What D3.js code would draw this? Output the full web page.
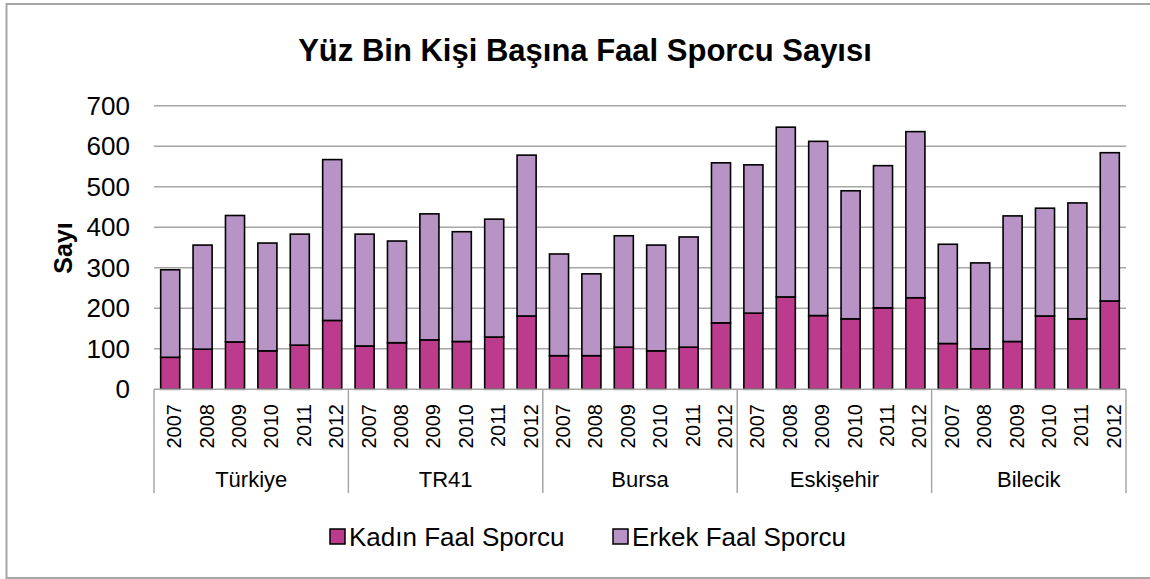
<!DOCTYPE html>
<html><head><meta charset="utf-8">
<script src="https://cdn.jsdelivr.net/npm/d3@7"></script>
<style>body{margin:0;background:#fff}svg{display:block;font-family:"Liberation Sans",Arial,sans-serif}</style>
</head><body><svg id="c" width="1150" height="579"></svg>
<script>
const groups = ["Türkiye","TR41","Bursa","Eskişehir","Bilecik"];
const years = ["2007","2008","2009","2010","2011","2012"];
const kadin = [
  79, 99, 117, 95, 109, 170,
  107, 115, 122, 118, 129, 181,
  83, 83, 104, 95, 104, 164,
  188, 228, 182, 174, 201, 226,
  113, 100, 118, 181, 174, 218
];
const erkek = [
  216, 257, 312, 266, 274, 397,
  276, 251, 311, 271, 291, 397,
  251, 202, 275, 261, 272, 395,
  366, 419, 430, 316, 351, 410,
  245, 212, 310, 266, 286, 366
];
const yTicks = [0,100,200,300,400,500,600,700];
const seriesNames = ["Kadın Faal Sporcu","Erkek Faal Sporcu"];
const colors = ["#bc3b8c","#b894c6"];

const rows = [];
groups.forEach((g,gi)=>years.forEach((yr,yi)=>{
  const i = gi*years.length+yi;
  rows.push({key:g+"|"+yr, group:g, year:yr, kadin:kadin[i], erkek:erkek[i]});
}));

const svg = d3.select("#c");
const L=154, R=1126, T=105.7, B=389.3;
const x = d3.scaleBand().domain(rows.map(d=>d.key)).range([L,R]).paddingInner(0.4118).paddingOuter(0.2059);
const y = d3.scaleLinear().domain([0,700]).range([B,T]);

// outer border
svg.append("rect").attr("x",6.5).attr("y",4).attr("width",1160).attr("height",574)
  .attr("fill","none").attr("stroke","#a6a6a6").attr("stroke-width",2);

// title
svg.append("text").attr("x",585).attr("y",61).attr("text-anchor","middle")
  .attr("font-size",31).attr("font-weight","bold").text("Yüz Bin Kişi Başına Faal Sporcu Sayısı");

// gridlines
svg.append("g").selectAll("line").data(yTicks.filter(t=>t>0)).join("line")
  .attr("x1",L).attr("x2",R).attr("y1",d=>y(d)).attr("y2",d=>y(d))
  .attr("stroke","#a6a6a6").attr("stroke-width",1.5);

// y axis labels
const yAxis = d3.axisLeft(y).tickValues(yTicks).tickSize(0).tickPadding(24);
const ya = svg.append("g").attr("transform",`translate(${L},0)`).call(yAxis);
ya.select(".domain").remove();
ya.selectAll("text").attr("font-size",26).attr("font-family","Liberation Sans, Arial, sans-serif").attr("fill","#000");

svg.append("text").attr("transform","translate(72,248) rotate(-90)").attr("text-anchor","middle")
  .attr("font-size",25).attr("font-weight","bold").text("Sayı");

// stacked bars
const stack = d3.stack().keys(["kadin","erkek"])(rows);
svg.append("g").selectAll("g").data(stack).join("g")
  .attr("fill",(d,i)=>colors[i])
  .selectAll("rect").data(d=>d).join("rect")
  .attr("x",d=>x(d.data.key)).attr("width",x.bandwidth())
  .attr("y",d=>y(d[1])).attr("height",d=>y(d[0])-y(d[1]))
  .attr("stroke","#000").attr("stroke-width",1.6);

// category axis
const axisColor="#a6a6a6";
svg.append("line").attr("x1",L).attr("x2",R).attr("y1",B).attr("y2",B).attr("stroke",axisColor).attr("stroke-width",1.5);
const step = x.step();
const bounds = d3.range(groups.length+1).map(k=>L+k*years.length*step);
svg.append("g").selectAll("line").data(bounds).join("line")
  .attr("x1",d=>d).attr("x2",d=>d).attr("y1",B).attr("y2",493)
  .attr("stroke",axisColor).attr("stroke-width",1.5);

svg.append("g").selectAll("text").data(rows).join("text")
  .attr("transform",d=>`translate(${x(d.key)+x.bandwidth()/2+4},404) rotate(-90)`)
  .attr("text-anchor","end").attr("dy","0.35em").attr("font-size",20).text(d=>d.year);

svg.append("g").selectAll("text").data(groups).join("text")
  .attr("x",(d,i)=>(bounds[i]+bounds[i+1])/2).attr("y",486.5).attr("text-anchor","middle")
  .attr("font-size",22).text(d=>d);

// legend
const legX=[330,613];
const lg = svg.append("g").selectAll("g").data(seriesNames).join("g")
  .attr("transform",(d,i)=>`translate(${legX[i]},0)`);
lg.append("rect").attr("x",0).attr("y",529).attr("width",15).attr("height",15)
  .attr("fill",(d,i)=>colors[i]).attr("stroke","#000").attr("stroke-width",1.5);
lg.append("text").attr("x",19).attr("y",546).attr("font-size",26).text(d=>d);
</script></body></html>
